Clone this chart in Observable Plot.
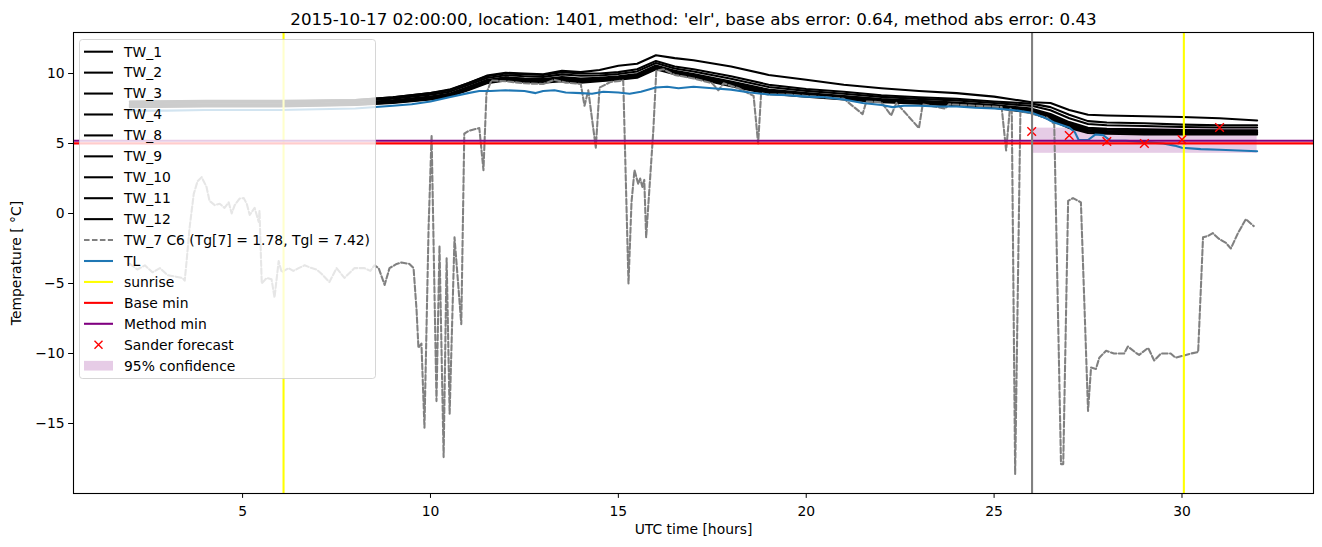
<!DOCTYPE html>
<html><head><meta charset="utf-8">
<script src="https://cdn.jsdelivr.net/npm/d3@7"></script>
<script src="https://cdn.jsdelivr.net/npm/@observablehq/plot@0.6"></script>
<style>body{margin:0;background:#fff;} #chart{width:1322px;height:547px;}</style>
</head><body><div id="chart"></div>
<script>
const titleText = "2015-10-17 02:00:00, location: 1401, method: 'elr', base abs error: 0.64, method abs error: 0.43";
const xTicks = [5, 10, 15, 20, 25, 30];
const yTicks = [-15, -10, -5, 0, 5, 10];

// time grid for the TW sensor series (hours UTC)
const hours = [2,4,6,8,9,10,10.5,11,11.5,12,12.5,13,13.5,14,14.5,15,15.5,16,16.5,17,18,19,20,21,22,23,24,25,26,26.5,27,27.5,28,29,30,31,32];
const tw1  = [8.0,8.05,8.05,8.1,8.3,8.6,8.85,9.3,9.85,10.05,10.0,9.95,10.2,10.1,10.25,10.55,10.7,11.3,11.1,10.95,10.5,9.9,9.55,9.2,8.95,8.75,8.6,8.35,7.95,7.9,7.4,7.05,7.0,6.95,6.9,6.8,6.65];
const tw2  = [7.98,8.0,8.0,8.1,8.3,8.6,8.8,9.3,9.8,10.0,9.95,9.9,10.1,10.0,10.0,10.1,10.3,10.9,10.5,10.3,9.8,9.2,8.9,8.7,8.45,8.3,8.2,8.0,7.85,7.6,7.05,6.6,6.5,6.45,6.35,6.3,6.3];
const tw3  = [7.9,7.92,7.92,8.02,8.2,8.49,8.69,9.18,9.68,9.88,9.81,9.76,9.94,9.84,9.86,9.96,10.15,10.75,10.36,10.15,9.62,9.04,8.76,8.56,8.33,8.19,8.08,7.89,7.69,7.38,6.81,6.39,6.3,6.25,6.18,6.14,6.14];
const tw4  = [7.8,7.81,7.81,7.91,8.08,8.35,8.55,9.03,9.53,9.73,9.65,9.6,9.75,9.65,9.7,9.8,9.97,10.57,10.2,9.97,9.42,8.85,8.6,8.4,8.18,8.05,7.93,7.75,7.49,7.11,6.53,6.13,6.06,6.01,5.96,5.94,5.94];
const tw8  = [7.76,7.77,7.77,7.87,8.04,8.31,8.51,8.99,9.49,9.69,9.6,9.55,9.69,9.59,9.65,9.75,9.91,10.51,10.15,9.91,9.35,8.78,8.55,8.35,8.14,8.01,7.88,7.71,7.43,7.02,6.43,6.05,5.98,5.93,5.9,5.88,5.88];
const tw9  = [7.72,7.74,7.74,7.84,8.0,8.26,8.46,8.93,9.43,9.63,9.54,9.49,9.61,9.51,9.59,9.69,9.84,10.44,10.09,9.84,9.28,8.71,8.5,8.3,8.09,7.97,7.83,7.67,7.36,6.92,6.33,5.96,5.9,5.85,5.82,5.81,5.81];
const tw10 = [7.68,7.71,7.71,7.81,7.96,8.22,8.42,8.89,9.39,9.59,9.5,9.45,9.57,9.47,9.55,9.65,9.8,10.4,10.05,9.8,9.23,8.67,8.46,8.26,8.05,7.93,7.79,7.63,7.32,6.87,6.28,5.91,5.85,5.8,5.78,5.77,5.77];
const tw11 = [7.64,7.68,7.68,7.78,7.93,8.19,8.39,8.85,9.35,9.55,9.45,9.4,9.51,9.41,9.5,9.6,9.75,10.35,10.0,9.75,9.17,8.61,8.41,8.21,8.01,7.9,7.75,7.6,7.26,6.79,6.19,5.84,5.79,5.74,5.73,5.72,5.72];
const tw12 = [7.6,7.65,7.65,7.75,7.9,8.15,8.35,8.8,9.3,9.5,9.4,9.35,9.45,9.35,9.45,9.55,9.7,10.3,9.95,9.7,9.1,8.55,8.35,8.15,7.95,7.85,7.7,7.55,7.2,6.7,6.1,5.75,5.7,5.65,5.65,5.65,5.65];

// TW_7 (C6) — dashed series
const tw7Hours = [2.0,2.2,2.4,2.6,2.8,3.0,3.2,3.4,3.46,3.51,3.59,3.70,3.80,3.91,4.04,4.12,4.26,4.39,4.52,4.63,4.71,4.79,4.92,5.03,5.11,5.19,5.32,5.43,5.45,5.51,5.64,5.77,5.85,5.96,6.04,6.22,6.35,6.49,6.65,6.84,6.97,7.10,7.31,7.50,7.71,7.98,8.24,8.40,8.51,8.62,8.78,8.91,9.10,9.23,9.44,9.55,9.63,9.68,9.76,9.84,9.95,10.03,10.16,10.24,10.35,10.43,10.51,10.64,10.82,10.90,11.01,11.30,11.41,11.49,11.62,12.0,12.5,13.0,13.3,13.6,14.0,14.1,14.2,14.4,14.5,14.8,15.13,15.27,15.35,15.43,15.53,15.58,15.64,15.69,15.74,15.93,16.01,16.2,16.5,17.0,17.5,17.66,17.8,18.2,18.6,18.72,18.8,19.0,19.5,20.0,20.5,21.0,21.5,21.6,22.0,22.26,22.4,23.0,23.1,23.7,23.8,24.5,25.2,25.32,25.42,25.47,25.56,25.7,25.9,26.1,26.4,26.6,26.78,26.84,26.97,27.10,27.31,27.50,27.58,27.71,27.8,27.98,28.19,28.46,28.56,28.8,28.86,29.1,29.26,29.44,29.7,29.83,29.97,30.24,30.43,30.56,30.69,30.82,30.98,31.17,31.3,31.49,31.7,31.91];
const tw7Temp  = [-3.6,-4.0,-3.7,-4.2,-3.9,-4.4,-4.5,-4.6,-4.8,-3.4,-1.0,1.4,2.3,2.6,1.9,0.9,0.6,0.7,0.4,0.8,0.0,0.6,1.07,1.1,0.7,-0.1,0.4,-0.6,0.2,-5.0,-4.6,-4.7,-6.0,-3.4,-4.2,-3.9,-4.1,-3.9,-3.7,-3.9,-4.0,-4.3,-4.9,-3.9,-4.6,-3.9,-3.9,-4.1,-3.7,-3.9,-5.1,-3.9,-3.6,-3.5,-3.6,-3.9,-6.9,-9.6,-9.3,-15.3,-1.0,5.6,-13.4,-2.3,-17.4,-3.2,-14.3,-1.7,-7.9,5.7,5.9,6.1,3.1,8.6,9.5,9.45,9.3,9.25,9.55,9.35,9.25,7.7,8.8,4.7,9.0,9.4,9.5,-5.0,0.8,3.1,2.1,2.5,1.9,2.4,-1.7,5.9,10.2,10.3,9.9,9.65,9.3,8.8,9.3,8.95,8.4,5.0,8.6,8.5,8.5,8.4,8.3,8.2,7.1,8.0,7.95,7.0,7.9,6.1,7.8,7.5,7.8,7.7,7.6,4.5,7.5,7.4,-18.6,7.3,7.2,7.05,6.85,6.4,-17.9,-17.9,0.9,1.1,0.8,-14.1,-11.0,-11.1,-10.3,-9.8,-10.0,-10.0,-9.5,-10.0,-10.1,-9.6,-10.5,-10.0,-10.0,-10.3,-10.2,-10.0,-9.9,-1.7,-1.6,-1.4,-1.8,-2.1,-2.5,-1.4,-0.4,-0.9];

// TL series
const tlHours = [2,3,4,5,6,7,8,9,9.5,10,10.5,11,11.3,11.6,12,12.5,12.8,13,13.3,13.6,14,14.3,14.6,15,15.3,15.6,16,16.3,16.6,17,17.5,18,18.5,19,19.5,20,20.5,21,21.5,22,22.3,22.6,23,23.5,24,24.5,25,25.5,26,26.3,26.6,27,27.15,27.25,27.5,27.7,27.9,28.1,28.5,29,29.5,29.8,30,30.5,31,31.5,32];
const tlTemp  = [7.35,7.35,7.4,7.4,7.4,7.45,7.5,7.7,7.8,8.0,8.3,8.6,8.75,8.75,8.8,8.75,8.6,8.75,8.8,8.65,8.6,8.55,8.7,8.65,8.55,8.7,9.0,9.05,8.95,9.05,8.95,8.85,8.65,8.5,8.45,8.35,8.3,8.15,7.9,7.75,7.6,7.7,7.7,7.65,7.65,7.55,7.5,7.4,7.2,6.9,6.5,6.15,5.8,5.25,5.25,5.65,5.6,5.2,5.2,5.1,5.0,4.85,4.7,4.6,4.55,4.5,4.45];

const sunriseHours = [6.09, 30.05];
const nowHour = 26.01;
const baseMin = 5.01;
const methodMin = 5.2;
const sanderHours = [26, 27, 28, 29, 30, 31];
const sanderTemp  = [5.86, 5.57, 5.14, 5.0, 5.28, 6.14];
const confHours = [26, 32];
const confLow = 4.3;
const confHigh = 6.1;

const twNames = ["TW_1","TW_2","TW_3","TW_4","TW_8","TW_9","TW_10","TW_11","TW_12"];
const twValues = [tw1,tw2,tw3,tw4,tw8,tw9,tw10,tw11,tw12];
const twRows = twNames.flatMap((n, k) => hours.map((h, i) => ({series: n, hour: h, temp: twValues[k][i]})));
const tw7Rows = tw7Hours.map((h, i) => ({hour: h, temp: tw7Temp[i]}));
const tlRows = tlHours.map((h, i) => ({hour: h, temp: tlTemp[i]}));
const sanderRows = sanderHours.map((h, i) => ({hour: h, temp: sanderTemp[i]}));
const confRows = [{x1: confHours[0], x2: confHours[1], y1: confLow, y2: confHigh}];

const LW = 2.08;
const DASH = "5.55 2.4";
const chart = Plot.plot({
  width: 1322, height: 547,
  marginLeft: 73, marginRight: 9, marginTop: 32, marginBottom: 54,
  style: {fontFamily: "DejaVu Sans", fontSize: "13.9px", background: "white", color: "black", overflow: "visible"},
  x: {domain: [0.5, 33.5], ticks: xTicks, tickSize: 4.9, tickPadding: 8, label: "UTC time [hours]", labelAnchor: "center", labelArrow: "none", labelOffset: 40},
  y: {domain: [-20, 12.93], ticks: yTicks, tickSize: 4.9, tickPadding: 4, label: "Temperature [ °C]", labelAnchor: "center", labelArrow: "none", labelOffset: 62},
  marks: [
    Plot.rect(confRows, {x1: "x1", x2: "x2", y1: "y1", y2: "y2", fill: "purple", fillOpacity: 0.2}),
    Plot.line(twRows, {x: "hour", y: "temp", z: "series", stroke: "black", strokeWidth: LW}),
    Plot.line(tw7Rows, {x: "hour", y: "temp", stroke: "gray", strokeWidth: LW, strokeDasharray: DASH, className: "tw7"}),
    Plot.line(tlRows, {x: "hour", y: "temp", stroke: "#1f77b4", strokeWidth: LW}),
    Plot.ruleX(sunriseHours, {stroke: "yellow", strokeWidth: LW}),
    Plot.ruleY([baseMin], {stroke: "red", strokeWidth: LW}),
    Plot.ruleY([methodMin], {stroke: "purple", strokeWidth: LW}),
    Plot.dot(sanderRows, {x: "hour", y: "temp", symbol: "times", stroke: "red", r: 4, strokeWidth: 1.4}),
    Plot.ruleX([nowHour], {stroke: "gray", strokeWidth: LW}),
    Plot.frame({stroke: "black", strokeWidth: 1.1}),
    Plot.text([titleText], {text: d => d, frameAnchor: "top", dy: -8, lineAnchor: "bottom", fontSize: 16.7, fill: "black"})
  ]
});
document.getElementById("chart").appendChild(chart);
// make sure the dashed pattern is applied on the path itself
d3.select(chart).selectAll("g.tw7 path").attr("stroke-dasharray", DASH);

// legend (inside the axes, upper left, semi-transparent)
const legendItems = [
  {label: "TW_1", kind: "line", color: "black"},
  {label: "TW_2", kind: "line", color: "black"},
  {label: "TW_3", kind: "line", color: "black"},
  {label: "TW_4", kind: "line", color: "black"},
  {label: "TW_8", kind: "line", color: "black"},
  {label: "TW_9", kind: "line", color: "black"},
  {label: "TW_10", kind: "line", color: "black"},
  {label: "TW_11", kind: "line", color: "black"},
  {label: "TW_12", kind: "line", color: "black"},
  {label: "TW_7 C6 (Tg[7] = 1.78, Tgl = 7.42)", kind: "dash", color: "gray"},
  {label: "TL", kind: "line", color: "#1f77b4"},
  {label: "sunrise", kind: "line", color: "yellow"},
  {label: "Base min", kind: "line", color: "red"},
  {label: "Method min", kind: "line", color: "purple"},
  {label: "Sander forecast", kind: "x", color: "red"},
  {label: "95% confidence", kind: "patch", color: "purple"}
];
const svg = d3.select(chart);
const lg = svg.append("g").attr("font-family", "DejaVu Sans").attr("font-size", "13.9px").attr("text-anchor", "start");
lg.append("rect").attr("x", 79.5).attr("y", 39.5).attr("width", 296).attr("height", 339).attr("rx", 3)
  .attr("fill", "white").attr("fill-opacity", 0.8).attr("stroke", "#cccccc").attr("stroke-opacity", 0.8);
legendItems.forEach((it, i) => {
  const y = 51.7 + i * 20.93;
  if (it.kind === "line" || it.kind === "dash") {
    const l = lg.append("line").attr("x1", 84).attr("x2", 113).attr("y1", y).attr("y2", y)
      .attr("stroke", it.color).attr("stroke-width", LW);
    if (it.kind === "dash") l.attr("stroke-dasharray", DASH);
  } else if (it.kind === "x") {
    lg.append("path").attr("d", `M${98.5-4},${y-4}L${98.5+4},${y+4}M${98.5-4},${y+4}L${98.5+4},${y-4}`)
      .attr("stroke", it.color).attr("stroke-width", 1.4);
  } else {
    lg.append("rect").attr("x", 84).attr("y", y - 4.8).attr("width", 29).attr("height", 9.7)
      .attr("fill", it.color).attr("fill-opacity", 0.2);
  }
  lg.append("text").attr("x", 124).attr("y", y).attr("dy", "0.35em").attr("text-anchor", "start").attr("fill", "black").text(it.label);
});
</script>
</body></html>
